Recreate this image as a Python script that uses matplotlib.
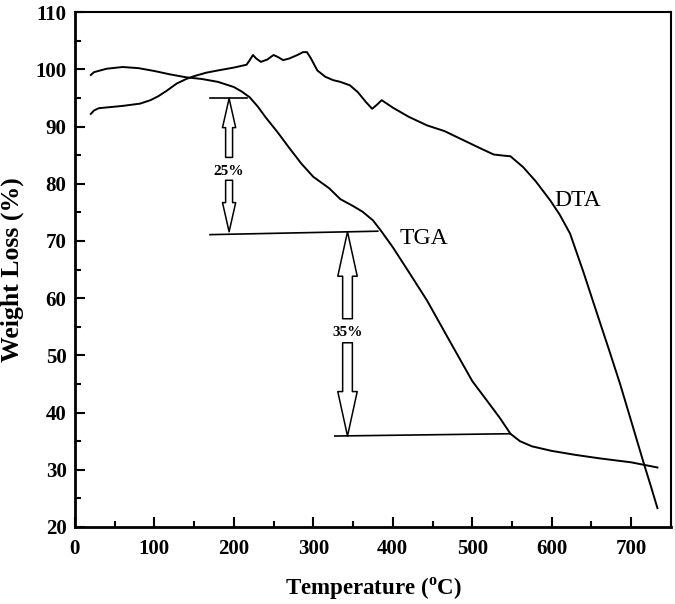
import matplotlib.pyplot as plt
from matplotlib.patches import FancyArrowPatch
from matplotlib.ticker import MultipleLocator

plt.rcParams["font.family"] = ["Liberation Serif", "DejaVu Serif"]
plt.rcParams["mathtext.fontset"] = "custom"
plt.rcParams["mathtext.rm"] = "Liberation Serif:bold"

# TGA curve
tga_x = [20, 24, 40, 60, 80, 100, 120, 140, 160, 180, 200, 210, 220, 230, 240, 255,
         270, 285, 300, 320, 334, 350, 362, 375, 385, 400, 420, 443, 470, 500, 520,
         535, 548, 560, 575, 600, 630, 660, 700, 733]
tga_y = [99.0, 99.5, 100.1, 100.4, 100.2, 99.7, 99.1, 98.6, 98.3, 97.8, 96.9, 96.1,
         95.1, 93.5, 91.6, 89.0, 86.2, 83.5, 81.2, 79.2, 77.3, 76.1, 75.1, 73.6, 71.8,
         68.9, 64.6, 59.6, 52.9, 45.5, 41.8, 39.0, 36.3, 35.0, 34.1, 33.3, 32.6, 32.0,
         31.3, 30.4]

# DTA curve
dta_x = [20, 24, 30, 45, 60, 82, 95, 105, 115, 128, 140, 150, 165, 180, 200, 216,
         220, 224, 228, 234, 242, 250, 256, 262, 270, 280, 287, 292, 297, 305, 315,
         325, 334, 346, 356, 366, 374, 380, 386, 400, 420, 443, 465, 489, 510, 527,
         540, 548, 564, 580, 598, 610, 623, 640, 657, 672, 686, 700, 715, 725, 733]
dta_y = [92.2, 92.8, 93.2, 93.4, 93.6, 94.0, 94.6, 95.3, 96.2, 97.5, 98.3, 98.8,
         99.4, 99.8, 100.3, 100.8, 101.6, 102.5, 101.9, 101.3, 101.7, 102.5, 102.1,
         101.6, 101.9, 102.5, 103.0, 103.0, 101.9, 99.8, 98.7, 98.1, 97.8, 97.2,
         96.0, 94.3, 93.1, 93.8, 94.6, 93.3, 91.7, 90.2, 89.2, 87.6, 86.2, 85.1,
         84.9, 84.8, 82.9, 80.4, 77.1, 74.6, 71.3, 64.5, 57.3, 51.0, 45.0, 38.5,
         31.5, 27.0, 23.3]

# reference levels: (x start, x end, y start, y end)
levels = [(170, 216, 94.9, 94.9), (170, 381, 71.1, 71.7), (327, 548, 35.9, 36.3)]

# loss arrows: x, top, shaft top end, label y, shaft bottom start, bottom, text
loss_arrows = [(194, 94.9, 84.6, 82.2, 80.6, 71.6, "25%"),
               (343, 71.6, 56.4, 54.0, 52.2, 35.9, "35%")]

fig, ax = plt.subplots(figsize=(6.75, 6.04), dpi=100)
fig.subplots_adjust(left=0.111, right=0.994, bottom=0.1275, top=0.980)

ax.plot(tga_x, tga_y, color="black", lw=1.4)
ax.plot(dta_x, dta_y, color="black", lw=1.4)
for x0, x1, y0, y1 in levels:
    ax.plot([x0, x1], [y0, y1], color="black", lw=1.2)


def block_arrow(x, y_from, y_to, big):
    if big:
        style = "simple,head_length=32,head_width=14,tail_width=7"
    else:
        style = "simple,head_length=21,head_width=9.5,tail_width=5"
    arr = FancyArrowPatch((x, y_from), (x, y_to), arrowstyle=style,
                          mutation_scale=1, shrinkA=0, shrinkB=0,
                          facecolor="white", edgecolor="black", lw=1.1)
    ax.add_patch(arr)


for i, (x, top, shaft_top, ty, shaft_bot, bot, txt) in enumerate(loss_arrows):
    big = i == 1
    block_arrow(x, shaft_top, top, big)
    block_arrow(x, shaft_bot, bot, big)
    ax.text(x, ty, txt, ha="center", va="center", fontsize=11, fontweight="bold")

ax.text(439, 70.4, "TGA", ha="center", va="center", fontsize=17)
ax.text(633, 77.1, "DTA", ha="center", va="center", fontsize=17)

ax.set_xlim(0, 750)
ax.set_ylim(20, 110)
ax.xaxis.set_minor_locator(MultipleLocator(50))
ax.yaxis.set_major_locator(MultipleLocator(10))
ax.yaxis.set_minor_locator(MultipleLocator(5))
ax.set_xticks(range(0, 701, 100))
ax.tick_params(which="both", direction="in", top=False, right=False, width=1.5)
ax.tick_params(which="major", length=7, labelsize=15)
ax.tick_params(axis="x", which="major", pad=9)
ax.tick_params(axis="y", which="major", pad=6)
ax.tick_params(which="minor", length=4)
for lab in ax.get_xticklabels() + ax.get_yticklabels():
    lab.set_fontweight("bold")
for s in ax.spines.values():
    s.set_linewidth(1.5)
ax.spines["bottom"].set_linewidth(2)
ax.spines["left"].set_linewidth(2)

ax.set_xlabel(r"Temperature ($^{\rm o}$C)", fontsize=16.5, fontweight="bold", labelpad=12)
ax.set_ylabel("Weight Loss (%)", fontsize=18.5, fontweight="bold", labelpad=8)

fig.savefig("out.png", dpi=100)
